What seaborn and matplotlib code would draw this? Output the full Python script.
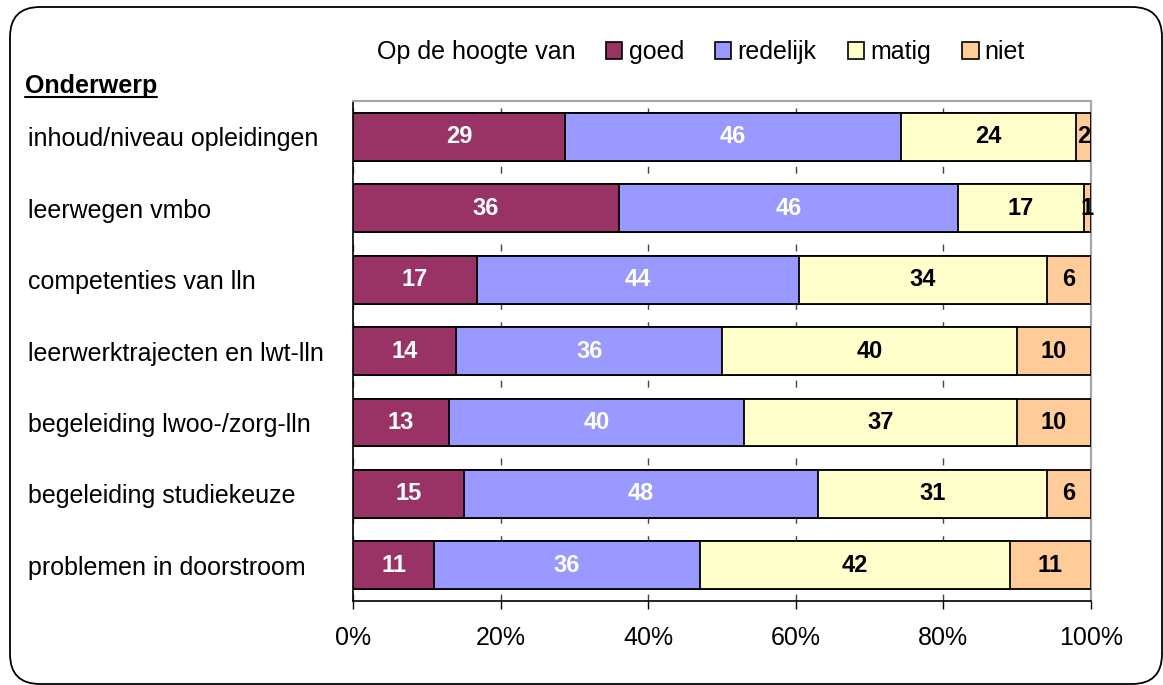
import matplotlib
matplotlib.use("Agg")
import matplotlib.pyplot as plt
from matplotlib.patches import Patch, FancyBboxPatch
from matplotlib.lines import Line2D
import numpy as np
import pandas as pd
import seaborn as sns

# ---- data ----
categories = [
    "inhoud/niveau opleidingen",
    "leerwegen vmbo",
    "competenties van lln",
    "leerwerktrajecten en lwt-lln",
    "begeleiding lwoo-/zorg-lln",
    "begeleiding studiekeuze",
    "problemen in doorstroom",
]
series_names = ["goed", "redelijk", "matig", "niet"]
goed = [29, 36, 17, 14, 13, 15, 11]
redelijk = [46, 46, 44, 36, 40, 48, 36]
matig = [24, 17, 34, 40, 37, 31, 42]
niet = [2, 1, 6, 10, 10, 6, 11]
x_ticks = [0, 20, 40, 60, 80, 100]
x_ticklabels = ["0%", "20%", "40%", "60%", "80%", "100%"]
colors = ["#993366", "#9999FF", "#FFFFCC", "#FFCC99"]
label_colors = ["white", "white", "black", "black"]

sns.set_style("white")
plt.rcParams["font.family"] = ["Liberation Sans", "DejaVu Sans"]
plt.rcParams["text.color"] = "black"
plt.rcParams["xtick.color"] = "black"
plt.rcParams["ytick.color"] = "black"
plt.rcParams["axes.labelcolor"] = "black"

vals = np.array([goed, redelijk, matig, niet], dtype=float)
pct = vals / vals.sum(axis=0) * 100
cum = np.cumsum(pct, axis=0)

df = pd.DataFrame({"cat": categories})
for i, name in enumerate(series_names):
    df["cum_" + name] = cum[i]

W, H = 1163, 685
fig = plt.figure(figsize=(W / 100, H / 100), dpi=100)
ax = fig.add_axes([353 / W, 1 - 601 / H, (1091 - 353) / W, 500 / H])

# draw from largest cumulative to smallest -> stacked look
for i in reversed(range(4)):
    sns.barplot(data=df, x="cum_" + series_names[i], y="cat", orient="h",
                color=colors[i], saturation=1, width=0.67,
                edgecolor="black", linewidth=1.3, ax=ax, zorder=3)

# value labels
for i in range(4):
    for j in range(len(categories)):
        center = cum[i, j] - pct[i, j] / 2
        ax.text(center, j, str(int(vals[i, j])), ha="center", va="center",
                fontsize=17, fontweight="bold", color=label_colors[i], zorder=5)

ax.set_xlim(0, 100)
ax.set_ylim(len(categories) - 0.5, -0.5)
ax.set_xticks(x_ticks)
ax.set_xticklabels(x_ticklabels, fontsize=18, color="black")
ax.set_xlabel("")
ax.set_ylabel("")
ax.set_yticks(range(len(categories)))
ax.set_yticklabels(categories, fontsize=18, ha="left", color="black")
ax.set_yticks(np.arange(-0.5, len(categories), 1.0), minor=True)
ax.tick_params(axis="y", which="major", length=0, pad=234)
ax.tick_params(axis="y", which="minor", length=6, width=1, color="black", direction="out")
ax.tick_params(axis="x", which="major", length=6, width=1, color="black",
               direction="out", pad=12, bottom=True)

ax.xaxis.grid(True, color="#444444", linestyle=(0, (5, 9)), linewidth=1, zorder=0)
ax.yaxis.grid(False)
ax.set_axisbelow(True)
for s in ["left", "bottom"]:
    ax.spines[s].set_color("black")
    ax.spines[s].set_linewidth(1.2)
for s in ["top", "right"]:
    ax.spines[s].set_color("#a6a6a6")
    ax.spines[s].set_linewidth(1.5)
    ax.spines[s].set_visible(True)

# legend
fig.text(377 / W, 1 - 52 / H, "Op de hoogte van", fontsize=18, ha="left",
         va="center", color="black")
handles = [Patch(facecolor=c, edgecolor="black", linewidth=1.2) for c in colors]
fig.legend(handles, series_names, loc="center left",
           bbox_to_anchor=(606 / W, 1 - 52 / H), ncol=4, frameon=False,
           fontsize=18, handlelength=0.65, handleheight=0.65, handletextpad=0.25,
           columnspacing=1.25, borderpad=0, borderaxespad=0)

# "Onderwerp" heading with underline
t = fig.text(25 / W, 1 - 86 / H, "Onderwerp", fontsize=18, fontweight="bold",
             ha="left", va="center", color="black")
fig.canvas.draw()
bb = t.get_window_extent()
fig.add_artist(Line2D([bb.x0 / W, bb.x1 / W], [(bb.y0 + 1) / H, (bb.y0 + 1) / H],
                      color="black", linewidth=1.5, transform=fig.transFigure))

# rounded outer frame
frame = FancyBboxPatch((0.10, 0.01), 11.52, 6.77,
                       boxstyle="round,pad=0,rounding_size=0.3",
                       transform=fig.dpi_scale_trans, facecolor="none",
                       edgecolor="black", linewidth=1.3)
fig.add_artist(frame)

fig.savefig("out.png", dpi=100)
